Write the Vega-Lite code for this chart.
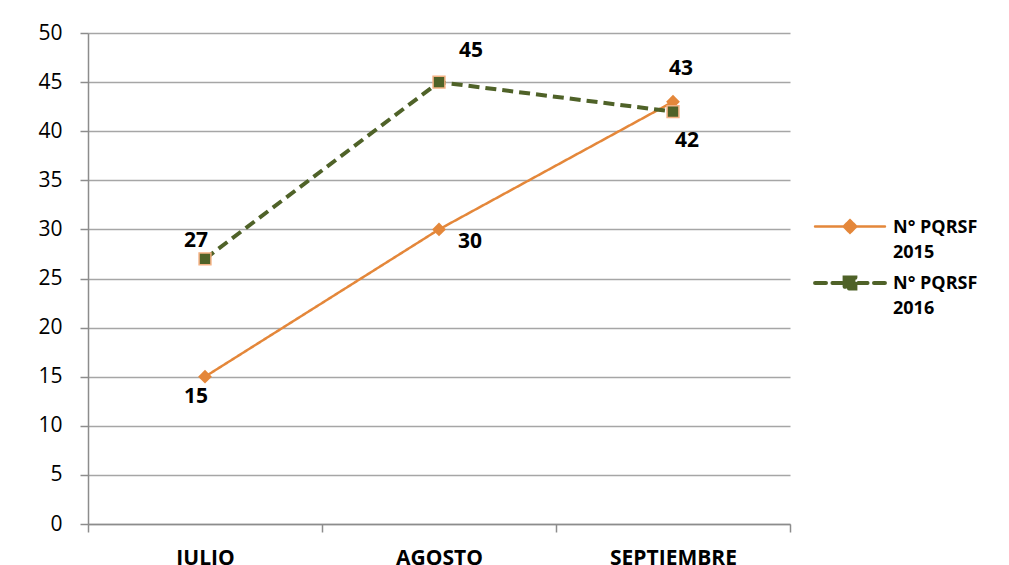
{
  "$schema": "https://vega.github.io/schema/vega-lite/v6.json",
  "width": 702,
  "height": 491,
  "autosize": {"type": "none"},
  "padding": {"left": 88, "top": 33, "right": 219, "bottom": 41},
  "background": "white",
  "config": {
    "view": {"stroke": null},
    "font": "Open Sans",
    "axis": {"labelFont": "Open Sans", "labelColor": "black", "domainColor": "#8C8C8C", "tickColor": "#8C8C8C", "gridColor": "#A6A6A6", "domainWidth": 1.5, "tickWidth": 1.5, "gridWidth": 1.5},
    "legend": {"labelFont": "Open Sans"}
  },
  "data": {
    "values": [
      {"month": "JULIO", "series": "2015", "value": 15},
      {"month": "AGOSTO", "series": "2015", "value": 30},
      {"month": "SEPTIEMBRE", "series": "2015", "value": 43},
      {"month": "JULIO", "series": "2016", "value": 27},
      {"month": "AGOSTO", "series": "2016", "value": 45},
      {"month": "SEPTIEMBRE", "series": "2016", "value": 42}
    ]
  },
  "encoding": {
    "x": {
      "field": "month", "type": "nominal", "sort": ["JULIO", "AGOSTO", "SEPTIEMBRE"],
      "scale": {"paddingInner": 0, "paddingOuter": 0},
      "axis": {"title": null, "labelAngle": 0, "tickBand": "extent", "tickSize": 8, "labelPadding": 15, "labelFontSize": 21, "labelFontWeight": "bold", "labelBaseline": "top", "grid": false}
    },
    "y": {
      "field": "value", "type": "quantitative",
      "scale": {"domain": [0, 50], "nice": false},
      "axis": {"title": null, "values": [0,5,10,15,20,25,30,35,40,45,50], "tickSize": 8, "labelPadding": 18, "labelFontSize": 21, "grid": true}
    }
  },
  "layer": [
    {
      "mark": {"type": "line", "strokeCap": "butt"},
      "encoding": {
        "color": {
          "field": "series", "type": "nominal",
          "scale": {"domain": ["2015", "2016"], "range": ["#E4873A", "#4F6228"]},
          "legend": {
            "title": null,
            "orient": "none",
            "legendX": 745,
            "legendY": 177,
            "symbolSize": 900,
            "labelOffset": 26,
            "labelFontSize": 18,
            "labelFontWeight": "bold",
            "labelColor": "black",
            "labelBaseline": "top",
            "rowPadding": 4,
            "labelExpr": "['N° PQRSF', datum.label]",
            "encode": {
              "symbols": {"update": {
                "shape": {"signal": "datum.value === '2015' ? 'M-2.33,0L2.33,0M0,-0.42L0.42,0L0,0.42L-0.42,0Z' : 'M-2.33,0L-1.6,0M-1.17,0L-0.55,0M0.55,0L1.17,0M1.6,0L2.33,0M-0.36,-0.36L0.36,-0.36L0.36,0.36L-0.36,0.36Z'"},
                "size": {"value": 900},
                "fill": {"signal": "datum.value === '2015' ? '#E4873A' : '#4F6228'"},
                "stroke": {"signal": "datum.value === '2015' ? '#E4873A' : '#4F6228'"},
                "strokeWidth": {"signal": "datum.value === '2015' ? 2.5 : 4"},
                "strokeDash": {"value": []},
                "strokeCap": {"value": "round"},
                "opacity": {"value": 1},
                "fillOpacity": {"value": 1}
              }},
              "labels": {"update": {"lineHeight": {"value": 25}, "dy": {"value": -8}}}
            }
          }
        },
        "strokeDash": {"field": "series", "type": "nominal", "scale": {"domain": ["2015", "2016"], "range": [[1, 0], [11, 6]]}, "legend": null},
        "strokeWidth": {"field": "series", "type": "nominal", "scale": {"domain": ["2015", "2016"], "range": [2.5, 4]}, "legend": null}
      }
    },
    {
      "transform": [{"filter": "datum.series === '2015'"}],
      "mark": {"type": "point", "shape": "diamond", "filled": true, "size": 190, "color": "#E4873A", "opacity": 1}
    },
    {
      "transform": [{"filter": "datum.series === '2016'"}],
      "mark": {"type": "square", "size": 140, "fill": "#4F6228", "stroke": "#F4B183", "strokeWidth": 1.5, "opacity": 1}
    },
    {
      "transform": [{"filter": "datum.series === '2015' && datum.month === 'JULIO'"}],
      "mark": {"type": "text", "fontSize": 21, "fontWeight": "bold", "baseline": "middle", "dx": -9, "dy": 20, "color": "black"},
      "encoding": {"text": {"field": "value"}}
    },
    {
      "transform": [{"filter": "datum.series === '2015' && datum.month === 'AGOSTO'"}],
      "mark": {"type": "text", "fontSize": 21, "fontWeight": "bold", "baseline": "middle", "dx": 31, "dy": 13, "color": "black"},
      "encoding": {"text": {"field": "value"}}
    },
    {
      "transform": [{"filter": "datum.series === '2015' && datum.month === 'SEPTIEMBRE'"}],
      "mark": {"type": "text", "fontSize": 21, "fontWeight": "bold", "baseline": "middle", "dx": 8, "dy": -33, "color": "black"},
      "encoding": {"text": {"field": "value"}}
    },
    {
      "transform": [{"filter": "datum.series === '2016' && datum.month === 'JULIO'"}],
      "mark": {"type": "text", "fontSize": 21, "fontWeight": "bold", "baseline": "middle", "dx": -9, "dy": -18, "color": "black"},
      "encoding": {"text": {"field": "value"}}
    },
    {
      "transform": [{"filter": "datum.series === '2016' && datum.month === 'AGOSTO'"}],
      "mark": {"type": "text", "fontSize": 21, "fontWeight": "bold", "baseline": "middle", "dx": 32, "dy": -31, "color": "black"},
      "encoding": {"text": {"field": "value"}}
    },
    {
      "transform": [{"filter": "datum.series === '2016' && datum.month === 'SEPTIEMBRE'"}],
      "mark": {"type": "text", "fontSize": 21, "fontWeight": "bold", "baseline": "middle", "dx": 14, "dy": 29, "color": "black"},
      "encoding": {"text": {"field": "value"}}
    }
  ]
}
